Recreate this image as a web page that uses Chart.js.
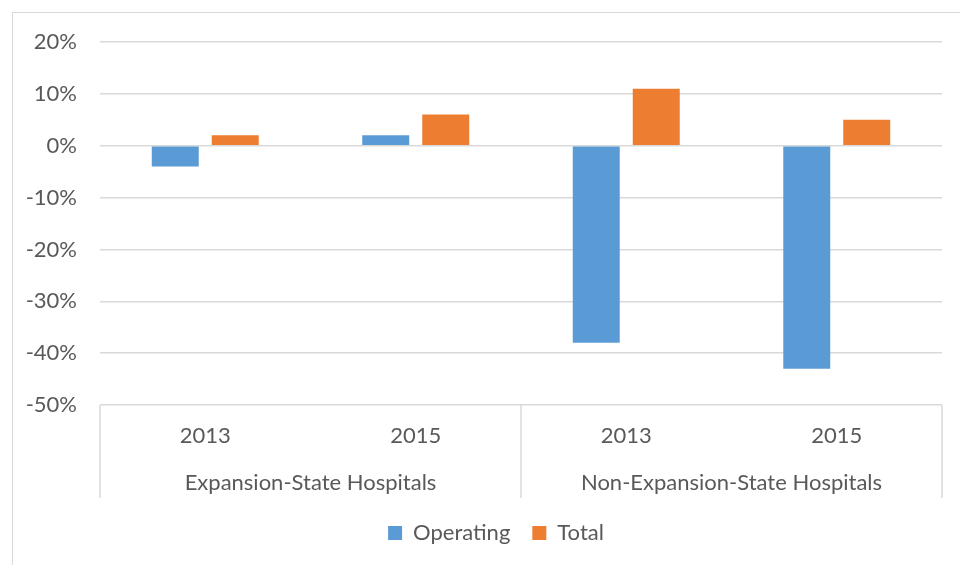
<!DOCTYPE html>
<html>
<head>
<meta charset="utf-8">
<script src="https://cdn.jsdelivr.net/npm/chart.js@4"></script>
<style>
  html, body { margin: 0; padding: 0; background: #ffffff; overflow: hidden; width: 960px; height: 565px; }
  #frame { position: absolute; left: 12px; top: 12px; width: 2000px; height: 2000px;
           border-top: 1.5px solid #d9d9d9; border-left: 1.5px solid #d9d9d9; z-index: 0; }
  #wrap { position: absolute; left: 0; top: 0; width: 960px; height: 565px; z-index: 1; }
</style>
</head>
<body>
<div id="frame"></div>
<div id="wrap"><canvas id="c" width="960" height="565"></canvas></div>
<script>
const years = ['2013', '2015', '2013', '2015'];
const groups = ['Expansion-State Hospitals', 'Non-Expansion-State Hospitals'];
const operating = [-4, 2, -38, -43];
const total = [2, 6, 11, 5];
const yTicks = [-50, -40, -30, -20, -10, 0, 10, 20];

const FONT = 'Lato';
const FS = 22;
const TXT = '#595959';
const GRID = '#d9d9d9';

const dividerPlugin = {
  id: 'dividers',
  afterLayout(chart) {
    const lg = chart.legend;
    if (lg) { lg.left += 25; lg.right += 25; }
  },
  afterDraw(chart) {
    const xs = chart.scales.x;
    const ctx = chart.ctx;
    const top = chart.chartArea.bottom;
    const bottom = top + 93;
    const mid = (xs.getPixelForValue(1) + xs.getPixelForValue(2)) / 2;
    ctx.save();
    ctx.strokeStyle = GRID;
    ctx.lineWidth = 1.5;
    [xs.left, mid, xs.right].forEach(px => {
      ctx.beginPath();
      ctx.moveTo(px, top);
      ctx.lineTo(px, bottom);
      ctx.stroke();
    });
    ctx.restore();
  }
};

new Chart(document.getElementById('c'), {
  type: 'bar',
  data: {
    labels: years,
    datasets: [
      { label: 'Operating', data: operating, backgroundColor: '#5b9bd5', xAxisID: 'x', yAxisID: 'y' },
      { label: 'Total', data: total, backgroundColor: '#ed7d31', xAxisID: 'x', yAxisID: 'y' }
    ]
  },
  options: {
    responsive: false,
    animation: false,
    barPercentage: 0.783,
    categoryPercentage: 0.57,
    layout: { padding: { left: 0, right: 18, top: 42, bottom: 11 } },
    plugins: {
      tooltip: { enabled: false },
      legend: {
        position: 'bottom',
        labels: {
          font: { family: FONT, size: FS },
          color: TXT,
          boxWidth: 14,
          boxHeight: 14,
          padding: 22
        }
      }
    },
    scales: {
      y: {
        min: yTicks[0],
        max: yTicks[yTicks.length - 1],
        afterBuildTicks(scale) { scale.ticks = yTicks.map(v => ({ value: v })); },
        afterFit(scale) { scale.width = 100; },
        ticks: {
          font: { family: FONT, size: FS },
          color: TXT,
          padding: 23,
          callback: v => v + '%'
        },
        grid: { color: GRID, lineWidth: 1.5, drawTicks: false },
        border: { display: false }
      },
      x: {
        type: 'category',
        position: 'bottom',
        weight: 0,
        afterFit(scale) { scale.height = 52; },
        ticks: { font: { family: FONT, size: FS }, color: TXT, padding: 18, maxRotation: 0 },
        grid: { display: false, drawTicks: false },
        border: { display: false }
      },
      x2: {
        type: 'category',
        position: 'bottom',
        weight: 1,
        labels: groups,
        offset: true,
        afterFit(scale) { scale.height = 43; },
        ticks: { font: { family: FONT, size: FS }, color: TXT, padding: 13, maxRotation: 0 },
        grid: { display: false, drawTicks: false },
        border: { display: false }
      }
    }
  },
  plugins: [dividerPlugin]
});
</script>
</body>
</html>
